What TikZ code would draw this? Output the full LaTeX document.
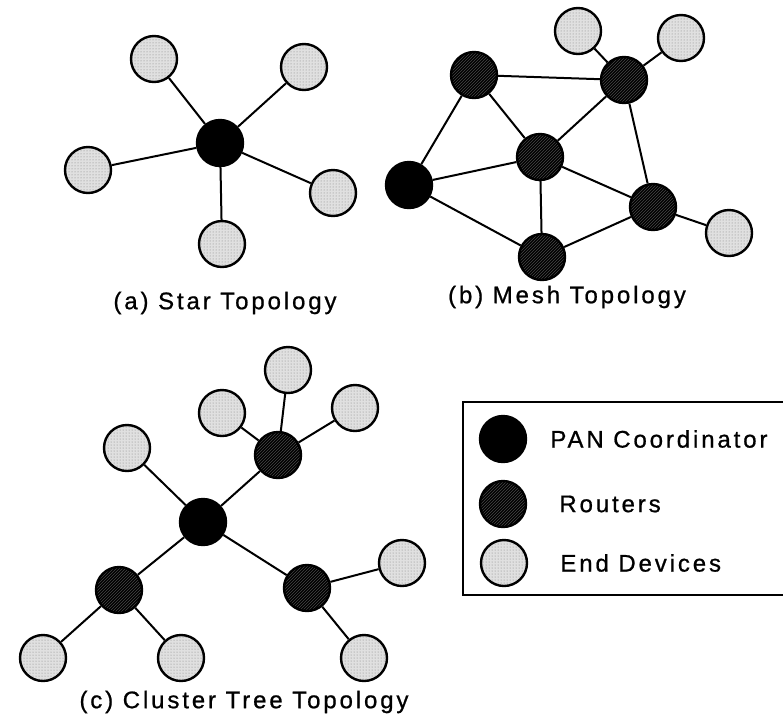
\documentclass[tikz,border=0pt]{standalone}
\usepackage{fontspec}
\setmainfont{Liberation Sans}
\newfontfamily\capfont[LetterSpace=12,FakeBold=0.8]{Liberation Sans}
\usetikzlibrary{positioning,patterns}

\begin{document}
\begin{tikzpicture}[x=1pt,y=-1pt,
dev/.style={
  draw,
  circle,
  line width=2.4pt,
  minimum size=46pt,
  inner sep=0pt},
pan/.style={dev, fill=black},
router/.style={dev, preaction={fill=black}, pattern=north east lines, pattern color=black!72},
enddev/.style={dev, preaction={fill=black!12}, pattern=dots, pattern color=black!50},
link/.style={line width=2pt},
caption/.style={font=\capfont\fontsize{24}{28}\selectfont, inner sep=0pt},
legtext/.style={font=\capfont\fontsize{24}{28}\selectfont, inner sep=0pt}
]
\useasboundingbox (0,0) rectangle (783,718);
% (a) star
\node[pan] (s0) at (220,143) {};
\node[enddev] (s1) at (154,59) {};
\node[enddev] (s2) at (304,67) {};
\node[enddev] (s3) at (88,170) {};
\node[enddev] (s4) at (333,193) {};
\node[enddev] (s5) at (222,244) {};
\foreach \i in {1,...,5}
  \draw[link] (s0) -- (s\i);
\node[caption] (capa) at (225,303) {(a) Star Topology};
% (b) mesh
\node[pan] (m0) at (409,185) {};
\node[router] (m1) at (474,75) {};
\node[router] (m2) at (624,80) {};
\node[router] (m3) at (540,157) {};
\node[router] (m4) at (653,207) {};
\node[router] (m5) at (542,257) {};
\node[enddev] (m6) at (578,31) {};
\node[enddev] (m7) at (681,38) {};
\node[enddev] (m8) at (729,233) {};
\foreach \a/\b in {m0/m1,m0/m3,m0/m5,m1/m3,m1/m2,m2/m3,m2/m4,m2/m6,m2/m7,m3/m4,m3/m5,m5/m4,m4/m8}
  \draw[link] (\a) -- (\b);
\node[caption] (capb) at (567,297) {(b) Mesh Topology};
% (c) cluster tree
\node[pan] (c0) at (203,522) {};
\node[router] (c1) at (278,455) {};
\node[router] (c2) at (119,590) {};
\node[router] (c3) at (307,588) {};
\node[enddev] (c4) at (127,448) {};
\node[enddev] (c5) at (222,413) {};
\node[enddev] (c6) at (288,370) {};
\node[enddev] (c7) at (355,408) {};
\node[enddev] (c8) at (43,658) {};
\node[enddev] (c9) at (181,658) {};
\node[enddev] (c10) at (402,563) {};
\node[enddev] (c11) at (364,658) {};
\foreach \a/\b in {c0/c1,c0/c2,c0/c3,c0/c4,c1/c5,c1/c6,c1/c7,c2/c8,c2/c9,c3/c10,c3/c11}
  \draw[link] (\a) -- (\b);
\node[caption] (capc) at (244,702) {(c) Cluster Tree Topology};
% legend
\draw[line width=1.8pt] (463,402) rectangle (820,595);
\node[pan] (lpan) at (503,439) {};
\node[router] (lrt) at (503,504) {};
\node[enddev] (lend) at (504,563) {};
\node[legtext, right=23pt of lpan] {PAN Coordinator};
\node[legtext, right=32pt of lrt] {Routers};
\node[legtext, right=32pt of lend] {End Devices};
\end{tikzpicture}
\end{document}
